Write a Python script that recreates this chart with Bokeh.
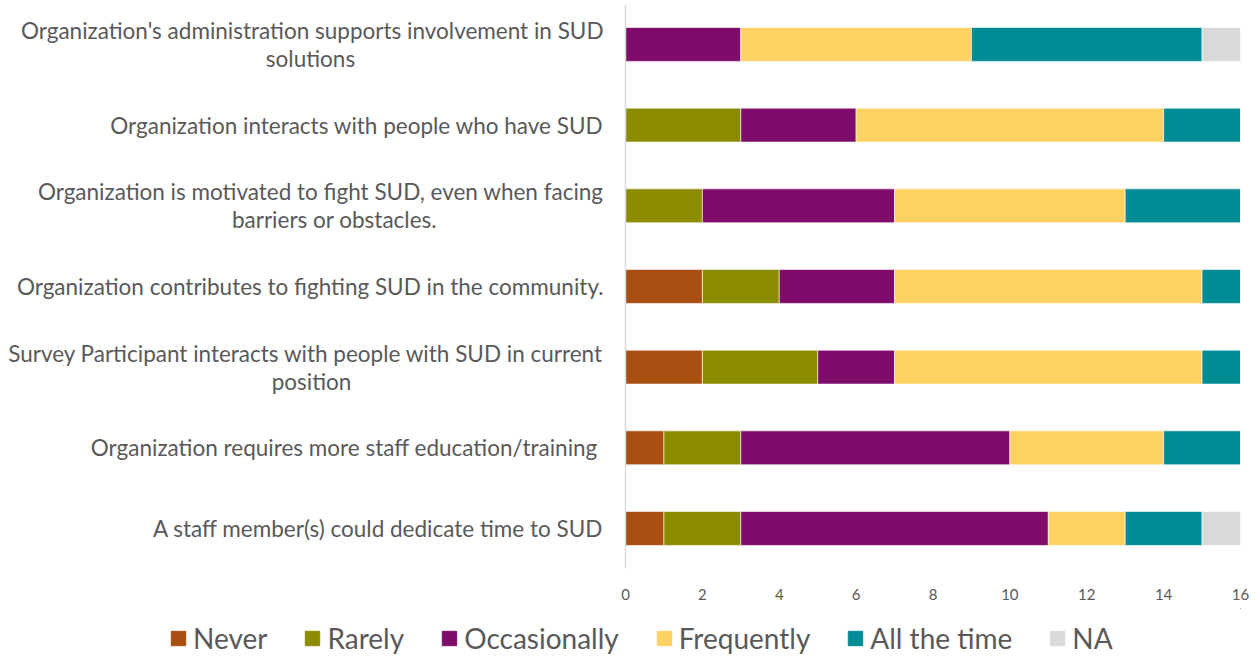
from bokeh.plotting import figure
from bokeh.models import ColumnDataSource, Range1d, Label, Legend, LegendItem, FixedTicker, Span
from bokeh.layouts import column
from bokeh.embed import file_html
from bokeh.resources import INLINE

# Categories, top to bottom
categories = [
    "Organization's administration supports involvement in SUD solutions",
    "Organization interacts with people who have SUD",
    "Organization is motivated to fight SUD, even when facing barriers or obstacles.",
    "Organization contributes to fighting SUD in the community.",
    "Survey Participant interacts with people with SUD in current position",
    "Organization requires more staff education/training ",
    "A staff member(s) could dedicate time to SUD",
]
# Displayed (wrapped) lines for each category
category_lines = [
    ["Organization's administration supports involvement in SUD", "solutions"],
    ["Organization interacts with people who have SUD"],
    ["Organization is motivated to fight SUD, even when facing", "barriers or obstacles."],
    ["Organization contributes to fighting SUD in the community."],
    ["Survey Participant interacts with people with SUD in current", "position"],
    ["Organization requires more staff education/training "],
    ["A staff member(s) could dedicate time to SUD"],
]

series_names = ["Never", "Rarely", "Occasionally", "Frequently", "All the time", "NA"]
never = [0, 0, 0, 2, 2, 1, 1]
rarely = [0, 3, 2, 2, 3, 2, 2]
occasionally = [3, 3, 5, 3, 2, 7, 8]
frequently = [6, 8, 6, 8, 8, 4, 2]
all_the_time = [6, 2, 3, 1, 1, 2, 2]
na = [1, 0, 0, 0, 0, 0, 1]

x_ticks = [0, 2, 4, 6, 8, 10, 12, 14, 16]

colors = ["#A84E10", "#8C8C00", "#7F0C6B", "#FED163", "#008B95", "#D9D9D9"]
TEXT = "#595959"
FONT = "Lato"

n = len(categories)
pos = [n - 1 - i for i in range(n)]
keys = ["never", "rarely", "occasionally", "frequently", "all_the_time", "na"]
src = ColumnDataSource(dict(pos=pos, cat=categories, never=never, rarely=rarely,
                            occasionally=occasionally, frequently=frequently,
                            all_the_time=all_the_time, na=na))

# frame spans the label area too; value 0 sits at x=625 px, 16 at x=1240 px
X_END = 16
x_start = -625 * X_END / 615.0

p = figure(width=1260, height=608, output_backend="svg", toolbar_location=None,
           x_range=Range1d(x_start, X_END), y_range=Range1d(-0.496, 6.495),
           min_border_left=0, min_border_right=20, min_border_top=4,
           min_border_bottom=40)
p.outline_line_color = None
p.xgrid.visible = False
p.ygrid.visible = False
p.yaxis.visible = False

renderers = p.hbar_stack(keys, y="pos", height=0.42, color=colors, source=src,
                         line_color="white", line_width=0.6)

p.add_layout(Span(location=0, dimension="height", line_color="#D9D9D9", line_width=1.5))

p.xaxis.ticker = FixedTicker(ticks=x_ticks)
p.xaxis.axis_line_color = None
p.xaxis.major_tick_line_color = None
p.xaxis.minor_tick_line_color = None
p.xaxis.major_label_text_font = FONT
p.xaxis.major_label_text_font_size = "15px"
p.xaxis.major_label_text_color = TEXT
p.xaxis.major_label_standoff = 14

# category labels
right_x = 603
second_centers = {0: 310, 2: 334, 4: 311}
LBL = "22.5px"
for i, lines in enumerate(category_lines):
    y = pos[i]
    if len(lines) == 1:
        p.add_layout(Label(x=right_x, y=y, x_units="screen", y_units="data", text=lines[0],
                           text_align="right", text_baseline="middle", text_font=FONT,
                           text_font_size=LBL, text_color=TEXT))
    else:
        p.add_layout(Label(x=right_x, y=y, x_units="screen", y_units="data", text=lines[0],
                           text_align="right", text_baseline="middle", text_font=FONT,
                           text_font_size=LBL, text_color=TEXT, y_offset=14))
        p.add_layout(Label(x=second_centers[i], y=y, x_units="screen", y_units="data",
                           text=lines[1], text_align="center", text_baseline="middle",
                           text_font=FONT, text_font_size=LBL, text_color=TEXT,
                           y_offset=-14))

# legend in its own strip below the chart (swatch renderers sit far outside the visible range)
p2 = figure(width=1260, height=49, output_backend="svg", toolbar_location=None,
            x_range=Range1d(0, 1), y_range=Range1d(0, 1),
            min_border_left=0, min_border_right=0, min_border_top=0, min_border_bottom=0)
p2.outline_line_color = None
p2.xaxis.visible = False
p2.yaxis.visible = False
p2.xgrid.visible = False
p2.ygrid.visible = False
swatches = [p2.vbar(x=[50], bottom=[50], top=[51], width=0.1, fill_color=c, line_color=c)
            for c in colors]
legend = Legend(items=[LegendItem(label=name, renderers=[r]) for name, r in zip(series_names, swatches)],
                orientation="horizontal", location=(169, 2),
                label_text_font=FONT, label_text_font_size="28px", label_text_color=TEXT,
                glyph_width=18, glyph_height=18, label_standoff=6, spacing=36,
                margin=0, padding=0, border_line_color=None, background_fill_alpha=0)
p2.add_layout(legend, "center")

layout = column(p, p2, spacing=0)
open("out.html", "w").write(file_html(layout, INLINE))
